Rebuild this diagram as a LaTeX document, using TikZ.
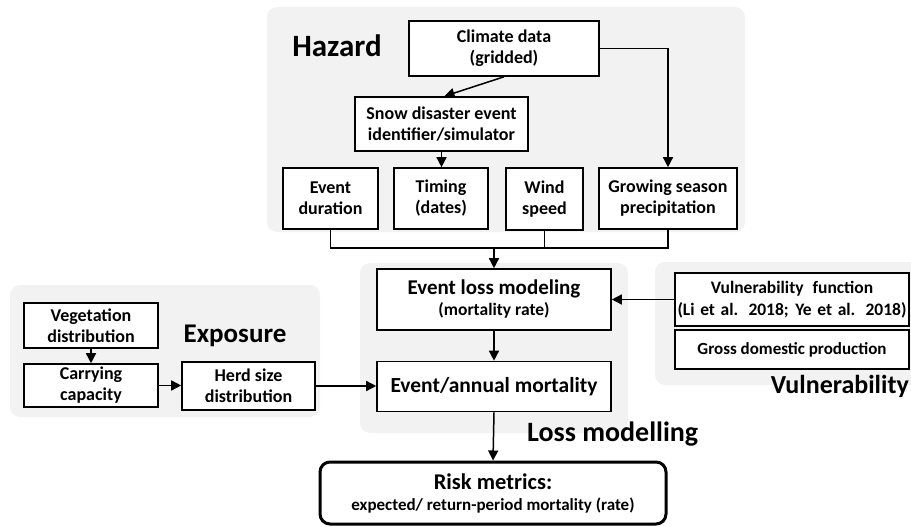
\documentclass[tikz,border=0pt]{standalone}
\usepackage{fontspec}
\setmainfont{Carlito}
\usetikzlibrary{arrows.meta,calc}
\definecolor{panelgray}{RGB}{242,242,242}
\newcommand{\fs}[2]{\fontsize{#1}{#2}\selectfont}
\begin{document}
\begin{tikzpicture}[x=1pt,y=-1pt,
  panel/.style={fill=panelgray,draw=none,rounded corners=10pt},
  box/.style={draw=black,line width=1.6pt,fill=white,inner sep=0pt,align=center,font=\bfseries\fs{18}{21}},
  conn/.style={line width=1.5pt},
  arr/.style={line width=1.5pt,-{Triangle[length=10pt,width=10pt]}},
  title/.style={font=\bfseries\fs{27}{30},inner sep=0pt}]
\useasboundingbox (0,0) rectangle (911,527);
% panels
\begin{scope}
\clip (0,0) rectangle (911,527);
\fill[panel] (267,7) rectangle (745,232);
\fill[panel] (10,285) rectangle (320,417);
\fill[panel] (360,263) rectangle (628,433);
\fill[panel] (655,262) rectangle (925,385);
\end{scope}
% titles
\node[title,font=\bfseries\fs{31}{34},anchor=base] (thaz) at (337,57) {Hazard};
\node[title,anchor=base] (texp) at (235,342) {Exposure};
\node[title,font=\bfseries\fs{28}{30},anchor=base west] (tloss) at (527,441) {Loss modelling};
\node[title,font=\bfseries\fs{26}{30},anchor=base east] (tvul) at (909,393) {Vulnerability};
% hazard boxes
\node[box,minimum width=190pt,minimum height=55pt] (clim) at (504,48.5) {Climate data\\(gridded)};
\node[box,minimum width=173pt,minimum height=54pt] (snow) at (441.5,124) {Snow disaster event\\identifier/simulator};
\node[box,minimum width=95pt,minimum height=61pt] (dur) at (330.5,198.5) {Event\\duration};
\node[box,minimum width=94pt,minimum height=61pt] (tim) at (441,198.5) {Timing\\(dates)};
\node[box,minimum width=77pt,minimum height=62pt] (wind) at (544.5,199) {Wind\\speed};
\node[box,minimum width=138pt,minimum height=61pt] (grow) at (668,198.5) {Growing season\\precipitation};
% loss boxes
\node[box,minimum width=234pt,minimum height=61pt] (eloss) at (494,299.5) {{\fs{21}{23}Event loss modeling}\\{\fs{17.5}{20}(mortality rate)}};
\node[box,minimum width=234pt,minimum height=50pt,font=\bfseries\fs{21.5}{24}] (eann) at (494,386.5) {Event/annual mortality};
% vulnerability boxes
\node[box,minimum width=234pt,minimum height=53pt,font=\bfseries\fs{17.5}{22}] (vuln) at (792,299.5) {Vulnerability\hspace{5pt} function\\\makebox[229pt][s]{(Li et al. 2018; Ye et al. 2018)}};
\node[box,minimum width=234pt,minimum height=39pt,font=\bfseries\fs{17}{20}] (gdp) at (792,349.5) {Gross domestic production};
% exposure boxes
\node[box,minimum width=134pt,minimum height=45pt] (veg) at (91,325.5) {Vegetation\\distribution};
\node[box,minimum width=134pt,minimum height=43pt] (carry) at (91,385.5) {Carrying\\capacity};
\node[box,minimum width=133pt,minimum height=48pt] (herd) at (248.5,386) {Herd size\\distribution};
% risk
\node[box,line width=3pt,rounded corners=10pt,minimum width=346pt,minimum height=62pt] (risk) at (493,493) {{\fs{22.5}{24}Risk metrics:}\\{\fs{17}{21}expected/ return-period mortality (rate)}};
% connectors
\draw[arr] (clim.south) -- ([xshift=3pt]snow.north);
\draw[arr] (clim.east) -| (grow.north);
\draw[arr] (snow.south) -- (snow.south |- tim.north);
\coordinate (jl) at (330.5,248);
\coordinate (jr) at (668,248);
\draw[conn] (dur.south) -- (jl) -- (jr) -- (grow.south);
\draw[conn] (wind.south) -- (wind.south |- jl);
\draw[arr] (eloss.north |- jl) -- (eloss.north);
\draw[arr] (vuln.west) -- (eloss.east);
\draw[arr] (eloss.south) -- (eann.north);
\draw[arr] (herd.east) -- (herd.east -| eann.west);
\draw[arr] (veg.south) -- (carry.north);
\draw[arr] (carry.east) -- (carry.east -| herd.west);
\draw[arr] (eann.south) -- (risk.north);
\end{tikzpicture}
\end{document}
